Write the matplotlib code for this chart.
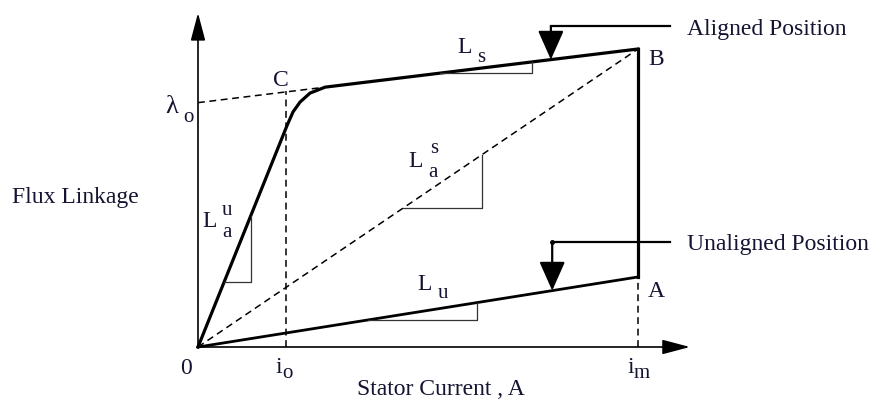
import matplotlib
matplotlib.use("Agg")
import matplotlib.pyplot as plt
import numpy as np

# chart units: current normalised to i_m, flux linkage normalised to lambda at B
i_o = 0.20
i_m = 1.00
lam_o = 0.82
flux_A = 0.235
flux_B = 1.00

# magnetisation curve in the aligned position
mag_i = [0.0, 0.202, 0.216, 0.232, 0.2545, 0.289, 1.0]
mag_flux = [0.0, 0.742, 0.789, 0.822, 0.852, 0.872, 1.0]
knee_i, knee_flux = 0.289, 0.872
C_flux = 0.859

# slope triangles: x extent along each line
tri_Lau = (0.059, 0.120)
tri_Las = (0.466, 0.645)
tri_Ls = (0.550, 0.759)
tri_Lu = (0.386, 0.634)

# pointers to the two curves
aligned_x, aligned_y = 0.802, 1.077
unaligned_x, unaligned_y = 0.805, 0.352
pointer_start = 1.073

txt = '#141432'
serif = ['Liberation Serif', 'DejaVu Serif']
plt.rcParams['font.family'] = serif

fig = plt.figure(figsize=(8.74, 4.06), dpi=100)
ax = fig.add_axes([0, 0, 1, 1])
ax.set_xlim(-198/440, (874-198)/440)
ax.set_ylim(-(406-348)/298, 348/298)
ax.axis('off')

# axes with arrows
ax.annotate('', xy=(0, 1.121), xytext=(0, 0),
            arrowprops=dict(arrowstyle='-|>,head_length=1.7,head_width=0.45', lw=1.2,
                            color='k', shrinkA=0, shrinkB=0, mutation_scale=10))
ax.annotate('', xy=(1.118, 0), xytext=(0, 0),
            arrowprops=dict(arrowstyle='-|>,head_length=1.7,head_width=0.45', lw=1.2,
                            color='k', shrinkA=0, shrinkB=0, mutation_scale=10))

dash = (0, (4.5, 3.0))
# dashed construction lines
ax.plot([0, knee_i], [lam_o, knee_flux], color='k', lw=1.1, ls=dash)
ax.plot([i_o, i_o], [0, C_flux], color='k', lw=1.1, ls=dash)
ax.plot([0, i_m], [0, flux_B], color='k', lw=1.1, ls=dash)
ax.plot([i_m, i_m], [0, flux_A], color='k', lw=1.1, ls=dash)

# main curves
ax.plot(mag_i, mag_flux, color='k', lw=2.3, solid_joinstyle='round')
ax.plot([0, i_m], [0, flux_A], color='k', lw=2.0)
ax.plot([i_m, i_m], [flux_A, flux_B], color='k', lw=2.3)

# slope triangles
def triangle(x0, x1, f):
    y0, y1 = f(x0), f(x1)
    ax.plot([x0, x1, x1], [y0, y0, y1], color='#333333', lw=0.9)

s_u = mag_flux[1] / mag_i[1]
s_s = (flux_B - knee_flux) / (i_m - knee_i)
triangle(*tri_Lau, lambda x: s_u * x)
triangle(*tri_Las, lambda x: x)
triangle(*tri_Ls, lambda x: knee_flux + s_s * (x - knee_i))
triangle(*tri_Lu, lambda x: flux_A * x)

# pointers
ptr = dict(arrowstyle='-|>,head_length=1.8,head_width=0.8', lw=1.6, color='k',
           shrinkA=0, shrinkB=0, mutation_scale=10)
ax.plot([pointer_start, aligned_x], [aligned_y, aligned_y], color='k', lw=1.6)
ax.annotate('', xy=(aligned_x, knee_flux + s_s * (aligned_x - knee_i)),
            xytext=(aligned_x, aligned_y), arrowprops=ptr)
ax.plot([pointer_start, unaligned_x], [unaligned_y, unaligned_y], color='k', lw=1.6)
ax.plot([unaligned_x], [unaligned_y], 'o', color='k', ms=2.5)
ax.annotate('', xy=(unaligned_x, flux_A * unaligned_x),
            xytext=(unaligned_x, unaligned_y), arrowprops=ptr)

# text
fs, fsub = 17, 15
def t(x, y, s, size=fs):
    ax.text(x, y, s, fontsize=size, color=txt, ha='left', va='baseline')

t(-0.423, 0.487, 'Flux Linkage')
t(0.361, -0.158, 'Stator Current , A')
t(-0.041, -0.087, '0')
t(0.177, -0.084, 'i'); t(0.191, -0.101, 'o', fsub)
t(0.975, -0.084, 'i'); t(0.989, -0.101, 'm', fsub)
t(-0.075, 0.789, '\u03bb', 19); t(-0.034, 0.758, 'o', fsub)
t(0.170, 0.879, 'C')
t(1.023, 0.950, 'B')
t(1.023, 0.171, 'A')
t(1.111, 1.050, 'Aligned Position')
t(1.111, 0.329, 'Unaligned Position')
t(0.589, 0.990, 'L'); t(0.634, 0.960, 's', fsub)
t(0.498, 0.195, 'L'); t(0.545, 0.168, 'u', fsub)
t(0.477, 0.607, 'L'); t(0.527, 0.654, 's', fsub); t(0.523, 0.574, 'a', fsub)
t(0.011, 0.406, 'L'); t(0.055, 0.446, 'u', fsub); t(0.055, 0.372, 'a', fsub)

fig.savefig('out.png', dpi=100)
